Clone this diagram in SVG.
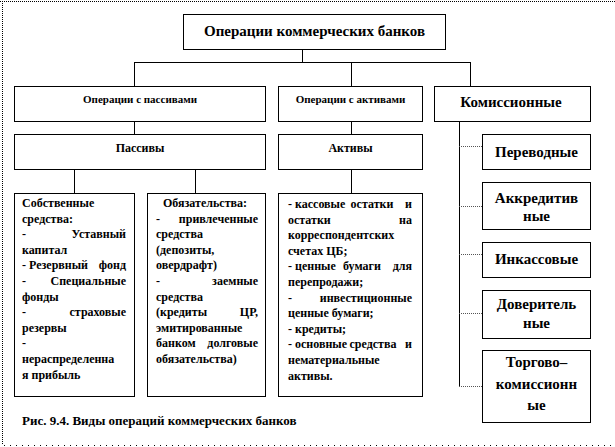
<svg xmlns="http://www.w3.org/2000/svg" width="615" height="447" viewBox="0 0 615 447">
<style>
.b{fill:#fff;stroke:#000;stroke-width:1}
.t{font-family:'Liberation Serif','Times New Roman',serif;font-weight:700;fill:#000}
.s12{font-size:12px}
.s11{font-size:11px}
.s15{font-size:15px}
.c{text-anchor:middle}
.e{text-anchor:end}
.ln{stroke:#000;stroke-width:1;fill:none}
.dl{stroke:#555;stroke-width:1;fill:none;stroke-dasharray:1 1}
.fr{stroke:#000;stroke-width:1;fill:none;stroke-dasharray:1 1}
.fb{stroke:#000;stroke-width:1;fill:none;stroke-dasharray:1 5}
</style>
<rect width="615" height="447" fill="#fff"/>
<g id="frame">
<line class="fr" x1="0" y1="1.5" x2="615" y2="1.5"/>
<line class="fr" x1="2.5" y1="1" x2="2.5" y2="445"/>
<line class="fb" x1="4" y1="445.5" x2="615" y2="445.5"/>
</g>
<g id="connectors">
<path class="ln" d="M302.5 50V62.5M134.5 62.5H470.5M134.5 62V86M351.5 62V86M470.5 62V86"/>
<path class="ln" d="M134.5 122V134M351.5 122V134"/>
<path class="ln" d="M74.5 170V193M195.5 170V193M351.5 170V193"/>
<path class="ln" d="M459.5 121V386.5"/>
<path class="dl" d="M459 146.5H482M459 206.5H482M459 254.5H482M459 313.5H482M459 386.5H482"/>
</g>
<g id="root">
<rect class="b" x="183.5" y="14.5" width="262" height="35"/>
<text class="t s15 c" x="314.5" y="36">Операции коммерческих банков</text>
</g>
<g id="op-passive">
<rect class="b" x="14.5" y="86.5" width="251" height="35"/>
<text class="t s11 c" x="140" y="103">Операции с пассивами</text>
</g>
<g id="op-active">
<rect class="b" x="278.5" y="86.5" width="144" height="35"/>
<text class="t s11 c" x="350.5" y="103">Операции с активами</text>
</g>
<g id="commission">
<rect class="b" x="434.5" y="86.5" width="156" height="35"/>
<text class="t s15 c" x="511" y="107">Комиссионные</text>
</g>
<g id="passives">
<rect class="b" x="14.5" y="134.5" width="251" height="35"/>
<text class="t s12 c" x="140" y="152">Пассивы</text>
</g>
<g id="actives">
<rect class="b" x="278.5" y="134.5" width="144" height="35"/>
<text class="t s12 c" x="350.5" y="152">Активы</text>
</g>
<g id="own-funds">
<rect class="b" x="14.5" y="193.5" width="120" height="203"/>
<g class="t s12">
<text x="22" y="207">Собственные</text>
<text x="22" y="222.6">средства:</text>
<text x="22" y="238.2">-</text><text class="e" x="126" y="238.2">Уставный</text>
<text x="22" y="253.8">капитал</text>
<text x="22" y="269.4">- Резервный</text><text class="e" x="126" y="269.4">фонд</text>
<text x="22" y="285">-</text><text class="e" x="126" y="285">Специальные</text>
<text x="22" y="300.6">фонды</text>
<text x="22" y="316.2">-</text><text class="e" x="126" y="316.2">страховые</text>
<text x="22" y="331.8">резервы</text>
<text x="22" y="347.4">-</text>
<text x="22" y="363">нераспределенна</text>
<text x="22" y="378.6">я прибыль</text>
</g>
</g>
<g id="liabilities">
<rect class="b" x="147.5" y="193.5" width="118" height="203"/>
<g class="t s12">
<text x="163" y="207">Обязательства:</text>
<text x="156" y="222.6">-</text><text class="e" x="258" y="222.6">привлеченные</text>
<text x="156" y="238.2">средства</text>
<text x="156" y="253.8">(депозиты,</text>
<text x="156" y="269.4">овердрафт)</text>
<text x="156" y="285">-</text><text class="e" x="258" y="285">заемные</text>
<text x="156" y="300.6">средства</text>
<text x="156" y="316.2">(кредиты</text><text class="e" x="258" y="316.2">ЦР,</text>
<text x="156" y="331.8">эмитированные</text>
<text x="156" y="347.4">банком</text><text class="e" x="258" y="347.4">долговые</text>
<text x="156" y="363">обязательства)</text>
</g>
</g>
<g id="assets-list">
<rect class="b" x="278.5" y="193.5" width="144" height="203"/>
<g class="t s12">
<text x="288" y="208">- кассовые</text><text class="c" x="372" y="208">остатки</text><text class="e" x="412" y="208">и</text>
<text x="288" y="223.6">остатки</text><text class="e" x="412" y="223.6">на</text>
<text x="288" y="239.2">корреспондентских</text>
<text x="288" y="254.8">счетах ЦБ;</text>
<text x="288" y="270.4">- ценные</text><text class="c" x="362" y="270.4">бумаги</text><text class="e" x="412" y="270.4">для</text>
<text x="288" y="286">перепродажи;</text>
<text x="288" y="301.6">-</text><text class="e" x="412" y="301.6">инвестиционные</text>
<text x="288" y="317.2">ценные бумаги;</text>
<text x="288" y="332.8">- кредиты;</text>
<text x="288" y="348.4">- основные</text><text class="c" x="373" y="348.4">средства</text><text class="e" x="412" y="348.4">и</text>
<text x="288" y="364">нематериальные</text>
<text x="288" y="379.6">активы.</text>
</g>
</g>
<g id="transfer">
<rect class="b" x="482.5" y="134.5" width="108" height="35"/>
<text class="t s15 c" x="536.5" y="157">Переводные</text>
</g>
<g id="letter-credit">
<rect class="b" x="482.5" y="182.5" width="108" height="47"/>
<text class="t s15 c" x="536.5" y="203">Аккредитив</text>
<text class="t s15 c" x="536.5" y="221">ные</text>
</g>
<g id="collection">
<rect class="b" x="482.5" y="242.5" width="108" height="35"/>
<text class="t s15 c" x="536.5" y="264">Инкассовые</text>
</g>
<g id="trust">
<rect class="b" x="482.5" y="290.5" width="108" height="48"/>
<text class="t s15 c" x="536.5" y="309">Доверитель</text>
<text class="t s15 c" x="536.5" y="328">ные</text>
</g>
<g id="trade-commission">
<rect class="b" x="482.5" y="350.5" width="108" height="72"/>
<text class="t s15 c" x="536.5" y="367">Торгово–</text>
<text class="t s15 c" x="536.5" y="389">комиссионн</text>
<text class="t s15 c" x="536.5" y="410">ые</text>
</g>
<g id="caption">
<text class="t" style="font-size:13px" x="22" y="425">Рис. 9.4. Виды операций коммерческих  банков</text>
</g>
</svg>
